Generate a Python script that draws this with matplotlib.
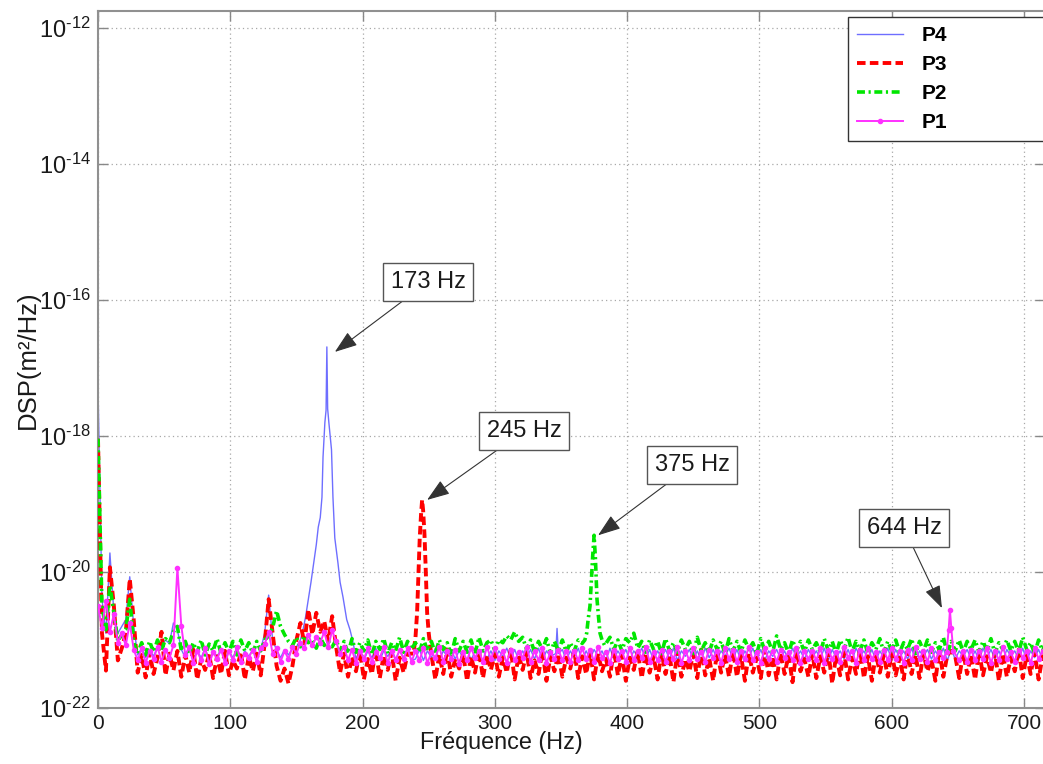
import numpy as np
import matplotlib.pyplot as plt
from matplotlib.ticker import NullLocator
from matplotlib.transforms import offset_copy

plt.rcParams['font.family'] = ['Liberation Sans', 'DejaVu Sans']
plt.rcParams['mathtext.fontset'] = 'custom'
plt.rcParams['mathtext.rm'] = 'Liberation Sans'
plt.rcParams['mathtext.it'] = 'Liberation Sans:italic'
plt.rcParams['mathtext.bf'] = 'Liberation Sans:bold'

# niveaux en centiemes de decade au-dessus de 1e-22 m2/Hz, un point tous les 3 Hz
STEP = 3.0

p4_floor = [
    472, 160, 110, 228, 140, 110, 120, 130, 193, 120, 78, 88, 74, 86, 76, 90, 92, 100, 95, 125,
    115, 86, 74, 86, 70, 84, 74, 88, 70, 84, 76, 86, 72, 84, 74, 88, 70, 84, 76, 86,
    74, 86, 110, 166, 100, 85, 74, 86, 78, 88, 90, 100, 110, 150, 190, 220, 250, 300, 350, 250,
    190, 150, 110, 95, 90, 72, 86, 70, 84, 74, 88, 70, 84, 76, 86, 72, 84, 74, 88, 70,
    72, 86, 70, 84, 74, 88, 70, 84, 76, 86, 72, 84, 74, 88, 70, 84, 76, 86, 72, 84,
    70, 84, 76, 88, 72, 86, 70, 84, 74, 86, 72, 88, 70, 84, 76, 80, 72, 86, 70, 84,
    74, 88, 70, 84, 72, 86, 76, 84, 70, 88, 72, 84, 74, 86, 70, 84, 76, 88, 72, 86,
    70, 84, 74, 86, 72, 88, 70, 84, 76, 86, 72, 84, 70, 88, 74, 86, 72, 84, 76, 88,
    72, 86, 70, 84, 74, 88, 72, 86, 70, 84, 76, 86, 72, 84, 70, 88, 74, 84, 72, 86,
    74, 84, 72, 88, 70, 86, 74, 84, 72, 86, 70, 88, 76, 84, 72, 86, 70, 84, 74, 88,
    70, 86, 74, 84, 72, 88, 70, 84, 76, 86, 72, 84, 74, 88, 70, 86, 72, 84, 76, 86,
    72, 84, 70, 88, 74, 86, 72, 84, 70, 86, 76, 84, 72, 88, 70, 84, 74, 86, 72, 84,
]
p3_floor = [
    396, 110, 55, 207, 150, 70, 88, 110, 190, 130, 52, 78, 45, 82, 50, 74, 112, 48, 80, 55,
    84, 46, 78, 52, 86, 42, 72, 56, 80, 44, 76, 50, 84, 48, 70, 58, 82, 42, 76, 54,
    80, 48, 95, 160, 110, 62, 40, 58, 36, 62, 100, 125, 95, 145, 108, 140, 112, 128, 98, 135,
    90, 52, 80, 46, 76, 54, 84, 42, 72, 50, 86, 44, 78, 56, 82, 40, 74, 52, 80, 84,
    82, 48, 76, 54, 84, 42, 78, 50, 86, 46, 72, 58, 80, 40, 76, 52, 84, 44, 78, 56,
    80, 46, 74, 52, 86, 42, 78, 56, 82, 44, 70, 50, 84, 40, 76, 54, 80, 46, 74, 58,
    84, 44, 76, 50, 82, 42, 80, 54, 72, 46, 86, 48, 78, 40, 74, 56, 84, 44, 80, 52,
    76, 42, 82, 50, 78, 38, 84, 46, 72, 54, 80, 44, 86, 48, 74, 40, 82, 52, 78, 46,
    84, 46, 78, 40, 80, 52, 74, 44, 86, 48, 76, 42, 82, 50, 78, 38, 84, 54, 72, 46,
    80, 44, 76, 52, 84, 36, 78, 48, 82, 42, 74, 50, 86, 44, 76, 40, 80, 52, 78, 46,
    82, 48, 74, 42, 84, 50, 78, 44, 80, 54, 72, 40, 86, 46, 78, 84, 76, 44, 82, 50,
    78, 42, 84, 48, 76, 52, 82, 40, 80, 46, 74, 54, 86, 44, 78, 50, 82, 42, 76, 52,
]
p2_floor = [
    396, 150, 115, 180, 140, 98, 108, 115, 160, 96, 80, 96, 78, 98, 82, 100, 84, 102, 96, 112,
    120, 84, 98, 80, 96, 82, 100, 78, 94, 84, 102, 80, 96, 82, 98, 78, 100, 84, 96, 80,
    98, 84, 100, 106, 118, 143, 120, 108, 98, 92, 104, 90, 106, 96, 100, 88, 104, 92, 98, 90,
    100, 84, 98, 80, 102, 82, 96, 84, 100, 78, 98, 86, 102, 80, 96, 84, 104, 82, 98, 86,
    96, 82, 102, 84, 98, 80, 100, 86, 96, 78, 102, 84, 98, 82, 100, 80, 104, 84, 96, 100,
    84, 100, 96, 106, 100, 112, 98, 104, 86, 100, 82, 98, 86, 102, 80, 98, 84, 100, 82, 96,
    84, 100, 92, 108, 120, 130, 115, 102, 92, 104, 86, 100, 84, 102, 96, 110, 88, 98, 82, 100,
    86, 98, 80, 102, 84, 96, 82, 100, 86, 98, 80, 104, 84, 96, 82, 100, 86, 98, 80, 102,
    84, 98, 82, 100, 86, 96, 80, 102, 84, 98, 82, 106, 86, 96, 80, 100, 84, 98, 82, 100,
    86, 96, 82, 102, 84, 98, 80, 100, 86, 104, 82, 98, 84, 100, 80, 96, 86, 102, 82, 98,
    84, 100, 82, 96, 86, 102, 80, 98, 84, 100, 82, 96, 86, 104, 80, 98, 84, 100, 82, 98,
    86, 100, 82, 98, 84, 102, 80, 96, 86, 100, 84, 98, 82, 104, 86, 96, 80, 100, 84, 98,
]
p1_floor = [
    150, 118, 158, 112, 138, 96, 110, 92, 125, 86, 70, 88, 66, 84, 72, 90, 68, 86, 74, 92,
    206, 120, 78, 90, 66, 84, 70, 88, 64, 82, 72, 86, 66, 84, 70, 90, 68, 80, 74, 86,
    68, 88, 94, 112, 80, 88, 68, 84, 72, 90, 80, 96, 88, 108, 92, 104, 96, 112, 90, 114,
    98, 80, 90, 70, 86, 66, 84, 72, 88, 68, 82, 74, 90, 66, 84, 70, 86, 72, 88, 68,
    84, 70, 88, 66, 82, 74, 90, 68, 84, 72, 86, 64, 82, 70, 88, 74, 84, 68, 90, 72,
    88, 72, 84, 66, 86, 70, 82, 74, 90, 68, 84, 70, 88, 66, 82, 72, 86, 70, 84, 68,
    84, 70, 88, 72, 86, 68, 90, 74, 82, 66, 86, 72, 84, 68, 88, 70, 84, 74, 90, 68,
    82, 70, 86, 68, 84, 72, 90, 66, 84, 70, 88, 72, 82, 68, 86, 74, 84, 66, 88, 72,
    86, 68, 84, 72, 90, 70, 82, 66, 88, 72, 84, 68, 86, 74, 82, 70, 88, 66, 84, 72,
    84, 70, 88, 66, 86, 72, 82, 68, 90, 74, 84, 66, 86, 70, 88, 72, 82, 68, 86, 70,
    88, 72, 84, 66, 86, 70, 90, 72, 84, 68, 88, 70, 82, 74, 86, 80, 88, 70, 84, 68,
    86, 70, 84, 72, 88, 66, 84, 70, 90, 72, 82, 68, 86, 74, 84, 66, 88, 72, 84, 70,
]

# resonances, points plus fins (Hz, centiemes de decade)
p4_peak_f = [153, 155, 157, 159, 161, 163, 165, 166.5, 168, 169.3, 170.1, 171.5, 172.4, 173,
             173.6, 174.5, 176.5, 177.6, 179, 181.4, 183, 185.2, 188, 190.5, 193, 346, 347, 348]
p4_peak_lv = [100, 115, 135, 160, 185, 213, 240, 266, 280, 310, 369, 420, 438, 531,
              440, 420, 380, 310, 250, 213, 185, 163, 130, 115, 95, 80, 117, 80]
p3_peak_f = [238.5, 240, 241.2, 242.3, 243.2, 244.2, 245, 245.8, 246.8, 247.8, 248.8, 250, 251.5]
p3_peak_lv = [80, 104, 140, 200, 250, 285, 306, 290, 255, 200, 140, 110, 85]
p2_peak_f = [366, 368, 369.4, 370.5, 371.9, 373, 374, 375, 376, 377.2, 378.3, 379.5, 381, 383]
p2_peak_lv = [95, 100, 110, 130, 150, 190, 225, 254, 220, 160, 135, 110, 100, 92]
p1_peak_f = [641.5, 643, 644, 645, 646.5]
p1_peak_lv = [82, 115, 144, 118, 84]

labels = ['P4', 'P3', 'P2', 'P1']
mode_freqs = [173, 245, 375, 644]
mode_series = [0, 1, 2, 3]


def spectrum(floor, peak_f, peak_lv):
    f = np.arange(len(floor)) * STEP
    lv = np.asarray(floor, dtype=float)
    pf = np.asarray(peak_f, dtype=float)
    keep = np.abs(f[:, None] - pf[None, :]).min(axis=1) > 1.5
    x = np.concatenate([f[keep], pf])
    y = np.concatenate([lv[keep], np.asarray(peak_lv, dtype=float)])
    order = np.argsort(x)
    return x[order], 10.0 ** (-22 + y[order] / 100.0)


series = [
    spectrum(p4_floor, p4_peak_f, p4_peak_lv),
    spectrum(p3_floor, p3_peak_f, p3_peak_lv),
    spectrum(p2_floor, p2_peak_f, p2_peak_lv),
    spectrum(p1_floor, p1_peak_f, p1_peak_lv),
]

W, H = 1043, 764
fig = plt.figure(figsize=(W / 100, H / 100), dpi=100)
fig.patch.set_facecolor('white')
px_per_hz = 1.3229
ax_w = 716 * px_per_hz
ax = fig.add_axes([98 / W, 56 / H, ax_w / W, 697.5 / H])

styles = [
    dict(color='#6e6eff', lw=1.0, ls='-'),
    dict(color='#ff0000', lw=2.8, ls=(0, (2.2, 1.1))),
    dict(color='#00e600', lw=2.6, ls=(0, (2.2, 1.0, 0.6, 1.0))),
    dict(color='#ff30ff', lw=1.4, ls='-', marker='.', ms=6),
]
for i, ((f, p), lab, st) in enumerate(zip(series, labels, styles)):
    ax.plot(f, p, label=lab, zorder=2 + i, **st)

ax.set_yscale('log')
ax.set_xlim(0, 716)
ax.set_ylim(1e-22, 10 ** (-22 + 697.5 / 68))
exps = [-22, -20, -18, -16, -14, -12]
ax.set_yticks([10.0 ** e for e in exps])
ax.set_yticklabels([r'$10^{\text{%d}}$' % e for e in exps])
ax.yaxis.set_minor_locator(NullLocator())
ax.set_xticks(np.arange(0, 701, 100))

ax.grid(True, ls=(0, (1, 2.5)), color='#a8a8a8', lw=0.9)
ax.tick_params(direction='in', length=7, width=1, color='#888888',
               top=True, right=True, labelcolor='#1a1a1a')
ax.tick_params(axis='y', labelsize=17, pad=5)
ax.tick_params(axis='x', labelsize=15, pad=4)
for sp in ax.spines.values():
    sp.set_color('#909090')
    sp.set_linewidth(1.5)

ax.set_xlabel('Fréquence (Hz)', fontsize=16.8, color='#1a1a1a')
ax.xaxis.set_label_coords((501 - 98) / ax_w, -23 / 697.5)
ax.set_ylabel('DSP(m²/Hz)', fontsize=18.5, color='#1a1a1a')
ax.yaxis.set_label_coords((40 - 98) / ax_w, 0.5)

# etiquettes des frequences propres
box_centres = [(428, 282), (524, 431), (692, 465), (904, 528)]
tip_shift = [(8, -5), (5, 0), (4, 0), (-8, 2)]
for f0, k, (cx, cy), (dx, dy) in zip(mode_freqs, mode_series, box_centres, tip_shift):
    fx, py = series[k]
    near = np.abs(fx - f0) < 2
    v0 = py[near].max()
    ax.annotate(f'{f0} Hz', xy=(f0, v0),
                xycoords=offset_copy(ax.transData, fig=fig, x=dx, y=dy, units='dots'),
                xytext=(cx, H - cy), textcoords='figure pixels',
                ha='center', va='center', fontsize=17, color='#1a1a1a', zorder=10,
                bbox=dict(boxstyle='square,pad=0.32', fc='white', ec='#555555', lw=1.0),
                arrowprops=dict(arrowstyle='-|>,head_length=0.7,head_width=0.25',
                                color='#333333', lw=0.8, shrinkA=0, shrinkB=0,
                                mutation_scale=20))

leg = ax.legend(loc='upper left', bbox_to_anchor=(848 / W, 1 - 17 / H, 230 / W, 0),
                bbox_transform=fig.transFigure, mode='expand', borderaxespad=0,
                prop={'weight': 'bold', 'size': 15}, handlelength=2.2,
                handletextpad=0.9, labelspacing=0.48, borderpad=0.43,
                fancybox=False, framealpha=1, edgecolor='#333333')
leg.get_frame().set_linewidth(1.0)
leg.set_zorder(20)

fig.savefig('out.png', dpi=100)
